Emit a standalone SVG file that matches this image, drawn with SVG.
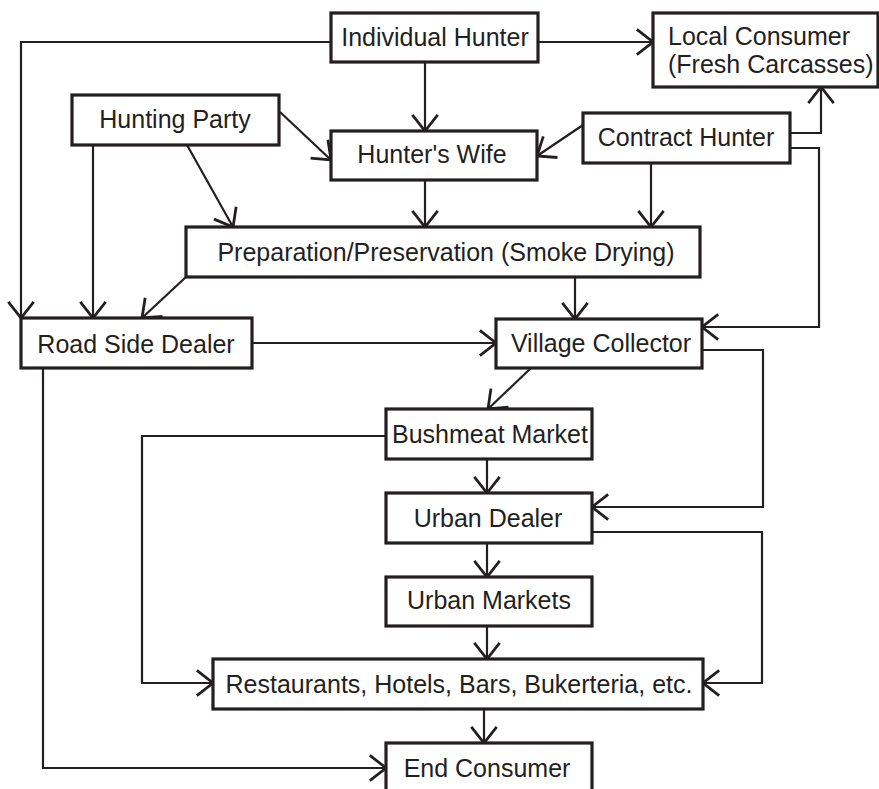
<svg xmlns="http://www.w3.org/2000/svg" width="879" height="789" viewBox="0 0 879 789">
<defs>
<marker id="arr" markerUnits="userSpaceOnUse" markerWidth="30" markerHeight="30" viewBox="-16 -13 18 26" refX="0" refY="0" orient="auto">
<path d="M-14,-11 L0,0 L-14,11" fill="none" stroke="#231f20" stroke-width="2.4"/>
</marker>
<style>
.box{fill:#fff;stroke:#231f20;stroke-width:3.2}
.lbl{font-family:"Liberation Sans",Arial,sans-serif;font-size:25px;fill:#231f20;text-anchor:middle}
.lbl2{font-family:"Liberation Sans",Arial,sans-serif;font-size:25px;fill:#231f20}
.c{fill:none;stroke:#231f20;stroke-width:2.2;marker-end:url(#arr)}
</style>
</defs>
<rect width="879" height="789" fill="#fff"/>
<g id="connectors">
<path class="c" d="M331,42 H21 V318"/>
<path class="c" d="M538,42 H653"/>
<path class="c" d="M425,62 V131"/>
<path class="c" d="M280,112 L331,160"/>
<path class="c" d="M93,145 V318"/>
<path class="c" d="M187,145 L233,227"/>
<path class="c" d="M425,180 V227"/>
<path class="c" d="M583,125 L537,156"/>
<path class="c" d="M790,133 H821 V87"/>
<path class="c" d="M790,148 H819 V327 H702"/>
<path class="c" d="M651,163 V227"/>
<path class="c" d="M186,277 L142,318"/>
<path class="c" d="M575,277 V319"/>
<path class="c" d="M252,343 H496"/>
<path class="c" d="M43,368 V768 H386"/>
<path class="c" d="M702,350 H763 V507 H592"/>
<path class="c" d="M531,368 L488,409"/>
<path class="c" d="M386,436 H142 V683 H213"/>
<path class="c" d="M487,459 V493"/>
<path class="c" d="M487,543 V577"/>
<path class="c" d="M592,532 H762 V683 H703"/>
<path class="c" d="M487,626 V659"/>
<path class="c" d="M484,709 V743"/>
</g>
<g id="individual-hunter"><rect class="box" x="331" y="13" width="207" height="49"/><text class="lbl" x="435" y="46">Individual Hunter</text></g>
<g id="local-consumer"><rect class="box" x="653" y="13" width="225" height="74"/><text class="lbl2" x="668" y="45">Local Consumer</text><text class="lbl2" x="668" y="73">(Fresh Carcasses)</text></g>
<g id="hunting-party"><rect class="box" x="72" y="95" width="207" height="50"/><text class="lbl" x="175" y="128">Hunting Party</text></g>
<g id="hunters-wife"><rect class="box" x="331" y="131" width="206" height="49"/><text class="lbl" x="432" y="163">Hunter's Wife</text></g>
<g id="contract-hunter"><rect class="box" x="583" y="113" width="207" height="50"/><text class="lbl" x="686" y="146">Contract Hunter</text></g>
<g id="preparation"><rect class="box" x="186" y="227" width="514" height="50"/><text class="lbl" x="446" y="261">Preparation/Preservation (Smoke Drying)</text></g>
<g id="road-side-dealer"><rect class="box" x="21" y="318" width="231" height="50"/><text class="lbl" x="136" y="353">Road Side Dealer</text></g>
<g id="village-collector"><rect class="box" x="496" y="319" width="206" height="49"/><text class="lbl" x="601" y="352">Village Collector</text></g>
<g id="bushmeat-market"><rect class="box" x="386" y="409" width="206" height="50"/><text class="lbl" x="490" y="443">Bushmeat Market</text></g>
<g id="urban-dealer"><rect class="box" x="386" y="493" width="206" height="50"/><text class="lbl" x="488" y="527">Urban Dealer</text></g>
<g id="urban-markets"><rect class="box" x="386" y="577" width="206" height="49"/><text class="lbl" x="489" y="609">Urban Markets</text></g>
<g id="restaurants"><rect class="box" x="213" y="659" width="490" height="50"/><text class="lbl" x="459" y="693">Restaurants, Hotels, Bars, Bukerteria, etc.</text></g>
<g id="end-consumer"><rect class="box" x="386" y="743" width="206" height="52"/><text class="lbl" x="487" y="777">End Consumer</text></g>
</svg>
